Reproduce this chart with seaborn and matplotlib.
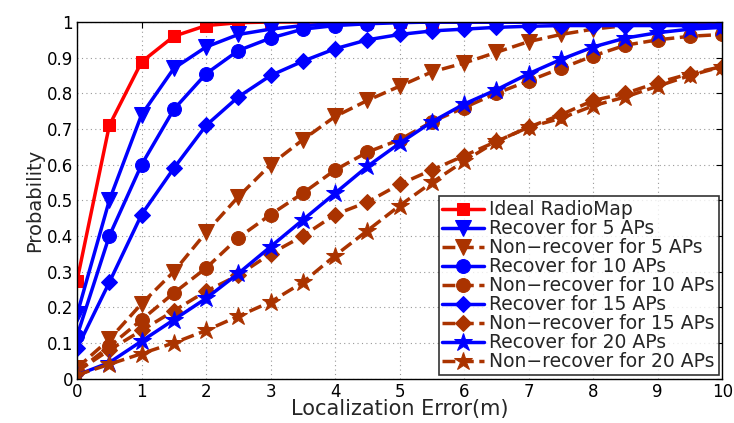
import numpy as np
import pandas as pd
import matplotlib
matplotlib.use("Agg")
import matplotlib.pyplot as plt
import seaborn as sns

# error axis (m)
err = [0, 0.5, 1, 1.5, 2, 2.5, 3, 3.5, 4, 4.5, 5, 5.5, 6, 6.5, 7, 7.5, 8, 8.5, 9, 9.5, 10]

ideal = [0.275, 0.71, 0.888, 0.96, 0.99, 0.998, 1, 1, 1, 1, 1, 1, 1, 1, 1, 1, 1, 1, 1, 1, 1]
rec5 = [0.18, 0.50, 0.74, 0.87, 0.93, 0.965, 0.98, 0.99, 0.995, 0.998, 1, 1, 1, 1, 1, 1, 1, 1, 1, 1, 1]
non5 = [0.03, 0.11, 0.21, 0.30, 0.41, 0.51, 0.60, 0.67, 0.735, 0.78, 0.82, 0.86, 0.885, 0.915, 0.945, 0.965, 0.98, 0.99, 0.995, 1, 1]
rec10 = [0.12, 0.40, 0.60, 0.755, 0.855, 0.92, 0.955, 0.98, 0.99, 0.995, 0.998, 1, 1, 1, 1, 1, 1, 1, 1, 1, 1]
non10 = [0.02, 0.09, 0.165, 0.24, 0.31, 0.395, 0.46, 0.52, 0.585, 0.635, 0.67, 0.72, 0.76, 0.80, 0.835, 0.87, 0.905, 0.935, 0.95, 0.96, 0.965]
rec15 = [0.085, 0.27, 0.46, 0.59, 0.71, 0.79, 0.85, 0.89, 0.925, 0.95, 0.965, 0.975, 0.98, 0.985, 0.988, 0.99, 0.99, 0.99, 0.99, 0.99, 0.99]
non15 = [0.02, 0.08, 0.135, 0.19, 0.245, 0.29, 0.35, 0.40, 0.46, 0.495, 0.545, 0.585, 0.625, 0.665, 0.705, 0.74, 0.78, 0.80, 0.83, 0.855, 0.875]
rec20 = [0.01, 0.045, 0.105, 0.165, 0.225, 0.295, 0.37, 0.445, 0.52, 0.595, 0.66, 0.72, 0.77, 0.81, 0.855, 0.895, 0.93, 0.955, 0.97, 0.98, 0.985]
non20 = [0.01, 0.04, 0.07, 0.10, 0.135, 0.175, 0.215, 0.27, 0.345, 0.415, 0.485, 0.55, 0.61, 0.665, 0.705, 0.73, 0.765, 0.79, 0.82, 0.85, 0.875]

labels = ["Ideal RadioMap", "Recover for 5 APs", "Non\u2212recover for 5 APs",
          "Recover for 10 APs", "Non\u2212recover for 10 APs",
          "Recover for 15 APs", "Non\u2212recover for 15 APs",
          "Recover for 20 APs", "Non\u2212recover for 20 APs"]
series = [ideal, rec5, non5, rec10, non10, rec15, non15, rec20, non20]

red = "#ff0000"
blue = "#0000ff"
brown = "#aa3300"
colors = [red, blue, brown, blue, brown, blue, brown, blue, brown]
markers = ["s", "v", "v", "o", "o", "D", "D", "*", "*"]
styles = ["-", "-", "--", "-", "--", "-", "--", "-", "--"]
msizes = [9, 11.5, 11.5, 10, 10, 8.5, 8.5, 13.5, 13.5]

sns.set_style("white")
plt.rcParams["font.family"] = ["DejaVu Sans"]

fig = plt.figure(figsize=(7.34, 4.23), dpi=100)
ax = fig.add_axes([0.105, 0.105, 0.879, 0.843])

for lab, vals, c, m, ls, ms in zip(labels, series, colors, markers, styles, msizes):
    df = pd.DataFrame({"err": err, "p": vals})
    sns.lineplot(data=df, x="err", y="p", ax=ax, color=c, marker=m, linestyle=ls,
                 linewidth=2.5, markersize=ms, markeredgecolor=c, label=lab)

ax.set_xlim(0, 10)
ax.set_ylim(0, 1)
ax.set_xticks(range(0, 11))
ax.set_yticks(np.arange(0, 1.01, 0.1))
ax.set_yticklabels(["0", "0.1", "0.2", "0.3", "0.4", "0.5", "0.6", "0.7", "0.8", "0.9", "1"])
ax.tick_params(direction="in", length=4, labelsize=12, colors="black", top=True, right=True)
ax.tick_params(axis="y", pad=3)
ax.tick_params(axis="x", pad=3)
ax.grid(True, linestyle=(0, (1, 3)), color="#999999", linewidth=0.8)
for s in ax.spines.values():
    s.set_color("black")
    s.set_linewidth(1.0)

ax.set_xlabel("Localization Error(m)", fontsize=15, labelpad=-1)
ax.set_ylabel("Probability", fontsize=14, labelpad=2)

leg = ax.legend(loc="lower right", fontsize=13.5, frameon=True, fancybox=False,
                edgecolor="black", borderaxespad=0.2, handlelength=2.2,
                labelspacing=0.0, borderpad=0.2, handletextpad=0.3)
leg.get_frame().set_linewidth(1.2)

fig.savefig("out.png", dpi=100)
